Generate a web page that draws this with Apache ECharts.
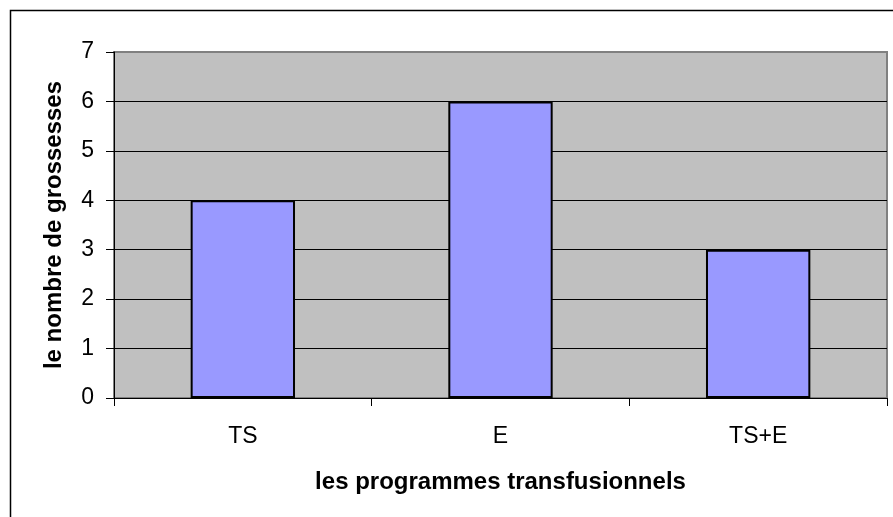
<!DOCTYPE html>
<html>
<head>
<meta charset="utf-8">
<script src="https://cdn.jsdelivr.net/npm/echarts@6/dist/echarts.min.js"></script>
<style>
html,body{margin:0;padding:0;background:#fff;}
#c{width:893px;height:517px;}
</style>
</head>
<body>
<div id="c"></div>
<script>
const categories = ['TS', 'E', 'TS+E'];
const values = [4, 6, 3];
const yTicks = [0, 1, 2, 3, 4, 5, 6, 7];
const xTitle = 'les programmes transfusionnels';
const yTitle = 'le nombre de grossesses';

const chart = echarts.init(document.getElementById('c'), null, {renderer: 'canvas'});
const font = 'Liberation Sans, Arial, sans-serif';
chart.setOption({
  animation: false,
  backgroundColor: '#ffffff',
  graphic: [{
    type: 'rect',
    shape: {x: 10.5, y: 10.5, width: 900, height: 600},
    style: {fill: 'none', stroke: '#000', lineWidth: 1.5},
    z: 100
  }],
  grid: {
    left: 114, top: 52, right: 6, bottom: 119,
    show: true, backgroundColor: '#c0c0c0',
    borderColor: '#808080', borderWidth: 2
  },
  xAxis: {
    type: 'category',
    data: categories,
    name: xTitle,
    nameLocation: 'middle',
    nameGap: 72,
    nameTextStyle: {fontFamily: font, fontSize: 24, fontWeight: 'bold', color: '#000'},
    axisLine: {show: true, lineStyle: {color: '#000', width: 1}},
    axisTick: {show: true, length: 8, lineStyle: {color: '#000'}},
    axisLabel: {fontFamily: font, fontSize: 23, color: '#000', margin: 27}
  },
  yAxis: {
    type: 'value',
    min: yTicks[0], max: yTicks[yTicks.length - 1], interval: 1,
    name: yTitle,
    nameLocation: 'middle',
    nameGap: 48,
    nameTextStyle: {fontFamily: font, fontSize: 24, fontWeight: 'bold', color: '#000'},
    axisLine: {show: true, lineStyle: {color: '#000', width: 1}},
    axisTick: {show: true, length: 8, lineStyle: {color: '#000'}},
    axisLabel: {fontFamily: font, fontSize: 23, color: '#000', margin: 20},
    splitLine: {show: true, showMaxLine: false, lineStyle: {color: '#000', width: 1.2}}
  },
  series: [{
    type: 'bar',
    data: values,
    barWidth: '40.5%',
    itemStyle: {color: '#9999ff', borderColor: '#000', borderWidth: 2}
  }]
});
</script>
</body>
</html>
